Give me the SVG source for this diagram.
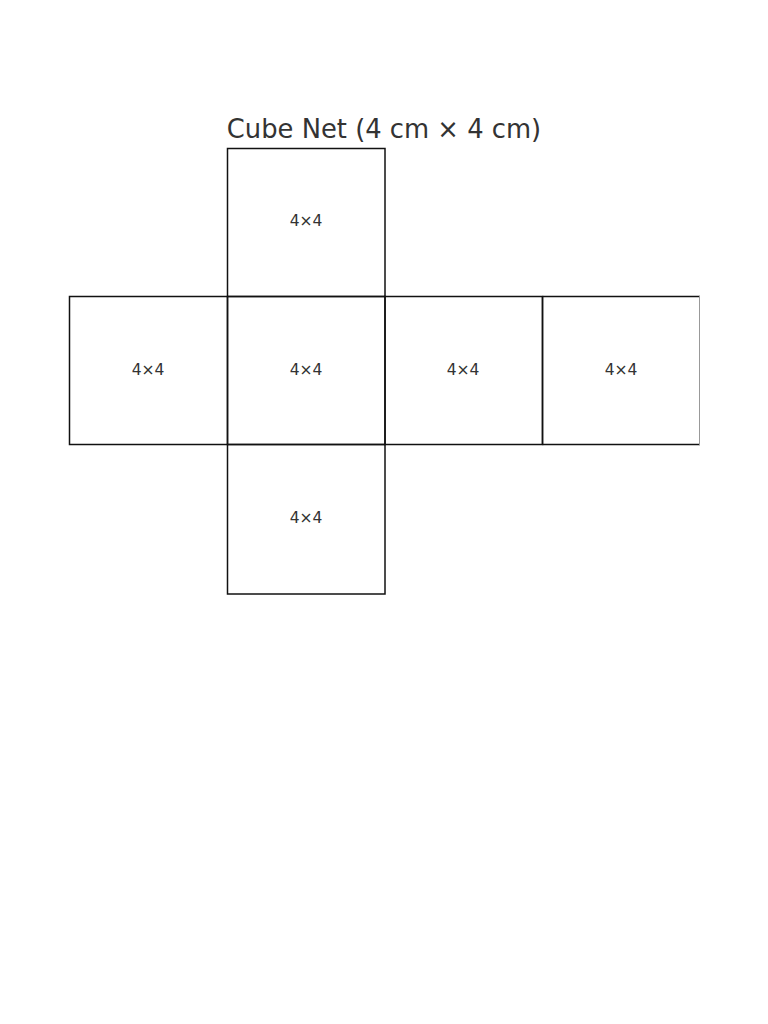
<svg xmlns="http://www.w3.org/2000/svg" width="768" height="1024" viewBox="0 0 768 1024">
<style>
.f{fill:none;stroke:#111;stroke-width:1.5}
.t{font-family:"DejaVu Sans",sans-serif;fill:#333;text-anchor:middle}
.l{font-size:15.5px}
</style>
<rect width="768" height="1024" fill="#fff"/>
<text class="t" x="384" y="138" font-size="25.8">Cube Net (4 cm × 4 cm)</text>
<g id="top"><rect class="f" x="227.5" y="148.5" width="157.5" height="148"/><text class="t l" x="306" y="225.5">4×4</text></g>
<g id="left"><rect class="f" x="69.5" y="296.5" width="158" height="148"/><text class="t l" x="148" y="374.5">4×4</text></g>
<g id="front"><rect class="f" x="227.5" y="296.5" width="157.5" height="148"/><text class="t l" x="306" y="374.5">4×4</text></g>
<g id="right"><rect class="f" x="385" y="296.5" width="157.5" height="148"/><text class="t l" x="463" y="374.5">4×4</text></g>
<g id="back"><path class="f" d="M542.5 296.5H700M542.5 444.5H700M542.5 296.5V444.5"/><line x1="699.5" y1="296" x2="699.5" y2="445" stroke="#999" stroke-width="1"/><text class="t l" x="621" y="374.5">4×4</text></g>
<g id="bottom"><rect class="f" x="227.5" y="444.5" width="157.5" height="149.5"/><text class="t l" x="306" y="523">4×4</text></g>
<g id="connectors"></g>
</svg>
